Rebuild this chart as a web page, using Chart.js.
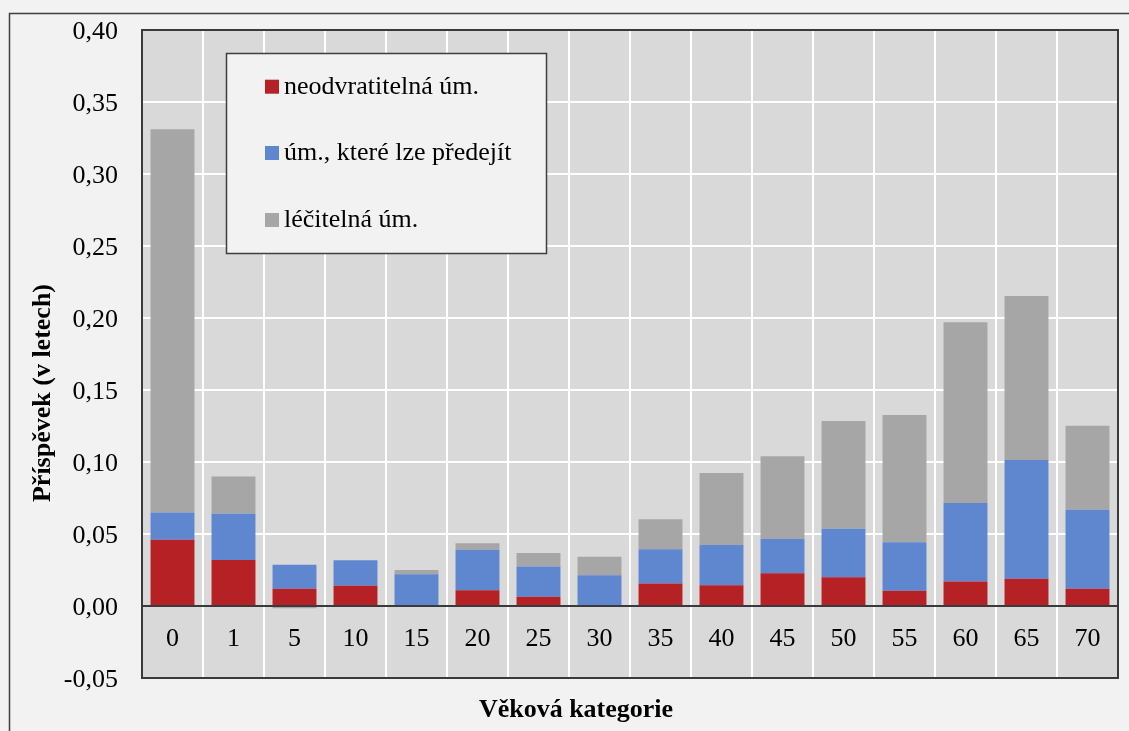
<!DOCTYPE html>
<html lang="cs">
<head>
<meta charset="utf-8">
<title>Příspěvek věkových kategorií</title>
<script src="https://cdn.jsdelivr.net/npm/chart.js@4/dist/chart.umd.min.js"></script>
<style>
  html, body { margin: 0; padding: 0; background: #f2f2f2; }
  canvas { display: block; }
</style>
</head>
<body>
<canvas id="chart" width="1129" height="731"></canvas>
<script>
// Věkové kategorie
const categories = ['0', '1', '5', '10', '15', '20', '25', '30', '35', '40', '45', '50', '55', '60', '65', '70'];

// Příspěvek jednotlivých skupin příčin úmrtí (v letech)
const neodvratitelna = [0.046, 0.032, 0.012, 0.014, 0.000, 0.011, 0.0065, 0.000, 0.0157, 0.0144, 0.0227, 0.020, 0.0106, 0.017, 0.019, 0.012];
const lzePredejit    = [0.019, 0.032, 0.0167, 0.0177, 0.022, 0.028, 0.021, 0.0213, 0.0237, 0.028, 0.0238, 0.0336, 0.0336, 0.0546, 0.0824, 0.0549];
const lecitelna      = [0.266, 0.026, -0.0015, 0.000, 0.003, 0.0045, 0.0093, 0.0129, 0.0208, 0.050, 0.0575, 0.0748, 0.0884, 0.1255, 0.1139, 0.0583];

const seriesNames = ['neodvratitelná úm.', 'úm., které lze předejít', 'léčitelná úm.'];
const seriesColors = ['#b52124', '#5f87cf', '#a6a6a6'];

// Osa Y
const yMin = -0.05, yMax = 0.40, yStep = 0.05;

const SERIF = '"Liberation Serif", "Times New Roman", serif';
const fmt = v => (Math.round(v * 100) / 100).toFixed(2).replace('.', ',');

// Pozadí stránky, rámeček grafu a šedé pozadí kreslicí plochy
const backdrop = {
  id: 'backdrop',
  beforeDraw(chart) {
    const { ctx, chartArea: a } = chart;
    ctx.save();
    ctx.fillStyle = '#f2f2f2';
    ctx.fillRect(0, 0, chart.width, chart.height);
    ctx.strokeStyle = '#3f3f3f';
    ctx.lineWidth = 1.5;
    ctx.strokeRect(9.5, 13.5, chart.width + 20, chart.height + 20);
    ctx.fillStyle = '#d9d9d9';
    ctx.fillRect(a.left, a.top, a.right - a.left, a.bottom - a.top);
    ctx.restore();
  }
};

// Nulová osa, obrys plochy, popisky kategorií, legenda a názvy os
const overlay = {
  id: 'overlay',
  afterDatasetsDraw(chart) {
    const { ctx, chartArea: a, scales: { x, y } } = chart;
    ctx.save();
    const y0 = y.getPixelForValue(0);
    ctx.strokeStyle = '#3a3a3a';
    ctx.lineWidth = 2;
    ctx.beginPath();
    ctx.moveTo(a.left, y0);
    ctx.lineTo(a.right, y0);
    ctx.stroke();
    ctx.strokeRect(a.left, a.top, a.right - a.left, a.bottom - a.top);

    // popisky kategorií uvnitř záporné části osy
    ctx.fillStyle = '#000';
    ctx.font = '26px ' + SERIF;
    ctx.textAlign = 'center';
    ctx.textBaseline = 'middle';
    const yl = y.getPixelForValue(yMin / 2) - 3;
    chart.data.labels.forEach((lab, i) => {
      ctx.fillText(lab, x.getPixelForValue(i), yl);
    });

    // legenda
    const lx = 226.5, ly = 53.5, lw = 320, lh = 200;
    ctx.fillStyle = '#f2f2f2';
    ctx.fillRect(lx, ly, lw, lh);
    ctx.strokeStyle = '#3f3f3f';
    ctx.lineWidth = 1.5;
    ctx.strokeRect(lx, ly, lw, lh);
    ctx.textAlign = 'left';
    const rows = [86.7, 153, 220];
    chart.data.datasets.forEach((ds, i) => {
      ctx.fillStyle = ds.backgroundColor;
      ctx.fillRect(265, rows[i] - 7, 14, 14);
      ctx.fillStyle = '#000';
      ctx.fillText(ds.label, 284, rows[i]);
    });

    // názvy os
    ctx.font = 'bold 26px ' + SERIF;
    ctx.textAlign = 'center';
    ctx.fillText('Věková kategorie', 576, 710);
    ctx.translate(43, 393);
    ctx.rotate(-Math.PI / 2);
    ctx.fillText('Příspěvek (v letech)', 0, 0);
    ctx.restore();
  }
};

const values = [neodvratitelna, lzePredejit, lecitelna];

new Chart(document.getElementById('chart'), {
  type: 'bar',
  data: {
    labels: categories,
    datasets: values.map((v, i) => ({
      label: seriesNames[i],
      data: v,
      backgroundColor: seriesColors[i],
      borderWidth: 0,
      categoryPercentage: 1,
      barPercentage: 0.72
    }))
  },
  options: {
    responsive: false,
    devicePixelRatio: 1,
    animation: false,
    layout: { padding: { top: 30, right: 11, bottom: 53, left: 0 } },
    plugins: {
      legend: { display: false },
      tooltip: { enabled: false },
      title: { display: false }
    },
    scales: {
      x: {
        stacked: true,
        ticks: { display: false },
        border: { display: false },
        grid: { offset: true, color: '#ffffff', lineWidth: 2, drawTicks: false },
        afterFit(scale) { scale.height = 0; }
      },
      y: {
        stacked: true,
        min: yMin,
        max: yMax,
        ticks: {
          stepSize: yStep,
          padding: 24,
          labelOffset: 2,
          color: '#000',
          font: { family: SERIF, size: 26 },
          callback: v => fmt(v)
        },
        border: { display: false },
        grid: { color: '#ffffff', lineWidth: 2, drawTicks: false },
        afterFit(scale) {
          scale.width = 142;
          scale.paddingTop = 0;
          scale.paddingBottom = 0;
        }
      }
    }
  },
  plugins: [backdrop, overlay]
});
</script>
</body>
</html>
